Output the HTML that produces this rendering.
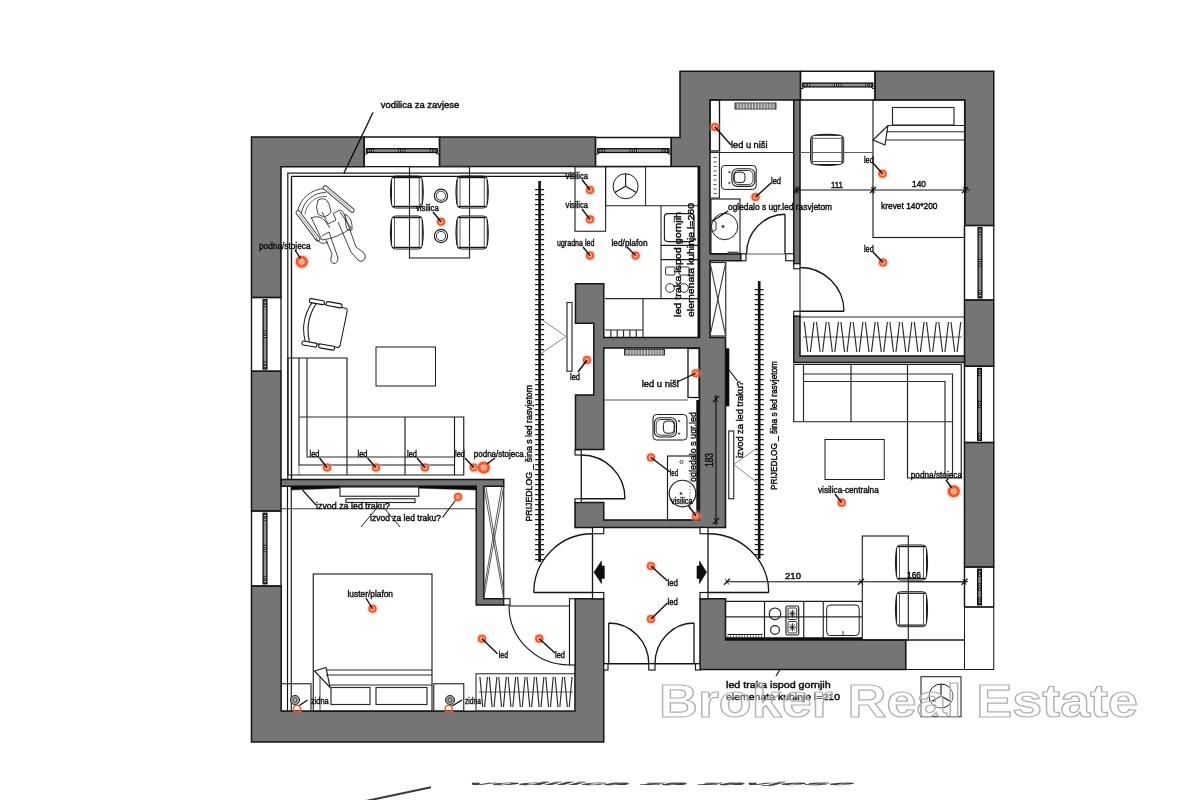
<!DOCTYPE html>
<html><head><meta charset="utf-8"><title>Floor plan</title>
<style>
html,body{margin:0;padding:0;background:#fff;}
body{width:1200px;height:800px;overflow:hidden;font-family:"Liberation Sans",sans-serif;}
svg{display:block;font-family:"Liberation Sans",sans-serif;}
svg text{stroke:#111;stroke-width:0.45px;}
</style></head><body>
<svg width="1200" height="800" viewBox="0 0 1200 800">
<defs><filter id="soft" x="-5%" y="-5%" width="110%" height="110%"><feGaussianBlur stdDeviation="0.55"/></filter>
<filter id="glow" x="-50%" y="-50%" width="200%" height="200%"><feGaussianBlur stdDeviation="0.8"/></filter></defs>
<rect width="1200" height="800" fill="#fff"/>
<g filter="url(#soft)">
<polygon points="251.5,137 364.2,137 364.2,166.7 281,166.7 281,297.5 251.5,297.5" fill="#747474" stroke="#151515" stroke-width="1.5" />
<polygon points="439.5,137 595.5,137 595.5,166.5 439.5,166.5" fill="#747474" stroke="#151515" stroke-width="1.5" />
<polygon points="251.5,371.25 281,371.25 281,511 251.5,511" fill="#747474" stroke="#151515" stroke-width="1.5" />
<polygon points="251.5,586 281.25,586 281.25,711.25 575,711.25 575,598.75 603.75,598.75 603.75,742 251.5,742" fill="#747474" stroke="#151515" stroke-width="1.5" />
<polygon points="281.25,479.5 503.75,479.5 503.75,486.25 483.75,486.25 483.75,598.75 503.75,598.75 503.75,605 476.25,605 476.25,486.25 281.25,486.25" fill="#747474" stroke="#151515" stroke-width="1.5" />
<polygon points="575.5,283.75 603.75,283.75 603.75,337.5 699.5,337.5 699.5,166.5 671.25,166.5 671.25,137.5 680,137.5 680,71.25 800.5,71.25 800.5,100 710,100 710,253.75 741,253.75 741,260.75 710,260.75 710,337.5 725.5,337.5 725.5,527.5 575,527.5 575,502.5 603.75,502.5 603.75,520 699.5,520 699.5,348 603.75,348 603.75,449.5 575.5,449.5 575.5,395 593.75,395 593.75,323.25 575.5,323.25" fill="#747474" stroke="#151515" stroke-width="1.5" />
<polygon points="875,71.25 993.75,71.25 993.75,225.5 965,225.5 965,100 875,100" fill="#747474" stroke="#151515" stroke-width="1.5" />
<polygon points="793.75,100 800,100 800,263.75 793.75,263.75" fill="#747474" stroke="#151515" stroke-width="1.5" />
<polygon points="964.5,300 993.75,300 993.75,366.25 964.5,366.25" fill="#747474" stroke="#151515" stroke-width="1.5" />
<polygon points="964.5,442.5 993.75,442.5 993.75,567 964.5,567" fill="#747474" stroke="#151515" stroke-width="1.5" />
<polygon points="793.75,316 800,316 800,356 964.5,356 964.5,362.5 793.75,362.5" fill="#747474" stroke="#151515" stroke-width="1.5" />
<polygon points="700,598.75 725.5,598.75 725.5,640 905.7,640 905.7,669.5 700,669.5" fill="#747474" stroke="#151515" stroke-width="1.5" />
<rect x="905.7" y="640" width="58.8" height="29.5" fill="none" stroke="#151515" stroke-width="1" />
<rect x="964.5" y="607" width="29.25" height="62.5" fill="none" stroke="#151515" stroke-width="1" />
<line x1="698.6" y1="166.5" x2="698.6" y2="337.5" stroke="#111" stroke-width="2.2" />
<line x1="697.8" y1="400" x2="697.8" y2="519" stroke="#111" stroke-width="3" />
<line x1="364.2" y1="137" x2="439.5" y2="137" stroke="#151515" stroke-width="1.4" />
<line x1="364.2" y1="166.7" x2="439.5" y2="166.7" stroke="#151515" stroke-width="1.3" />
<line x1="364.2" y1="137" x2="364.2" y2="166.7" stroke="#151515" stroke-width="1.3" />
<line x1="439.5" y1="137" x2="439.5" y2="166.7" stroke="#151515" stroke-width="1.3" />
<rect x="366.4" y="148.7" width="70.9" height="3.8" fill="#8c8c8c" stroke="#0a0a0a" stroke-width="1.25" />
<path d="M364.7,154.2 Q367.7,154.4 368.4,152.5" fill="none" stroke="#111" stroke-width="1" />
<path d="M439.0,154.2 Q436.0,154.4 435.3,152.5" fill="none" stroke="#111" stroke-width="1" />
<rect x="367.8" y="149.5" width="2" height="2.4" fill="#fff" stroke="#111" stroke-width="0.85" />
<rect x="371.4" y="149.5" width="2" height="2.4" fill="#fff" stroke="#111" stroke-width="0.85" />
<rect x="398.65" y="149.5" width="2" height="2.4" fill="#fff" stroke="#111" stroke-width="0.85" />
<rect x="403.05" y="149.5" width="2" height="2.4" fill="#fff" stroke="#111" stroke-width="0.85" />
<rect x="430.3" y="149.5" width="2" height="2.4" fill="#fff" stroke="#111" stroke-width="0.85" />
<rect x="433.9" y="149.5" width="2" height="2.4" fill="#fff" stroke="#111" stroke-width="0.85" />
<line x1="595.5" y1="137.5" x2="671.25" y2="137.5" stroke="#151515" stroke-width="1.4" />
<line x1="595.5" y1="166.5" x2="671.25" y2="166.5" stroke="#151515" stroke-width="1.3" />
<line x1="595.5" y1="137.5" x2="595.5" y2="166.5" stroke="#151515" stroke-width="1.3" />
<line x1="671.25" y1="137.5" x2="671.25" y2="166.5" stroke="#151515" stroke-width="1.3" />
<rect x="597.7" y="148.7" width="71.35" height="3.8" fill="#8c8c8c" stroke="#0a0a0a" stroke-width="1.25" />
<path d="M596.0,154.2 Q599.0,154.4 599.7,152.5" fill="none" stroke="#111" stroke-width="1" />
<path d="M670.75,154.2 Q667.75,154.4 667.05,152.5" fill="none" stroke="#111" stroke-width="1" />
<rect x="599.1" y="149.5" width="2" height="2.4" fill="#fff" stroke="#111" stroke-width="0.85" />
<rect x="602.7" y="149.5" width="2" height="2.4" fill="#fff" stroke="#111" stroke-width="0.85" />
<rect x="630.175" y="149.5" width="2" height="2.4" fill="#fff" stroke="#111" stroke-width="0.85" />
<rect x="634.575" y="149.5" width="2" height="2.4" fill="#fff" stroke="#111" stroke-width="0.85" />
<rect x="662.05" y="149.5" width="2" height="2.4" fill="#fff" stroke="#111" stroke-width="0.85" />
<rect x="665.65" y="149.5" width="2" height="2.4" fill="#fff" stroke="#111" stroke-width="0.85" />
<line x1="800.5" y1="71.25" x2="875" y2="71.25" stroke="#151515" stroke-width="1.4" />
<line x1="800.5" y1="100" x2="875" y2="100" stroke="#151515" stroke-width="1.3" />
<line x1="800.5" y1="71.25" x2="800.5" y2="100" stroke="#151515" stroke-width="1.3" />
<line x1="875" y1="71.25" x2="875" y2="100" stroke="#151515" stroke-width="1.3" />
<rect x="802.7" y="83.1" width="70.1" height="3.8" fill="#8c8c8c" stroke="#0a0a0a" stroke-width="1.25" />
<path d="M801.0,88.6 Q804.0,88.8 804.7,86.9" fill="none" stroke="#111" stroke-width="1" />
<path d="M874.5,88.6 Q871.5,88.8 870.8,86.9" fill="none" stroke="#111" stroke-width="1" />
<rect x="804.1" y="83.9" width="2" height="2.4" fill="#fff" stroke="#111" stroke-width="0.85" />
<rect x="807.7" y="83.9" width="2" height="2.4" fill="#fff" stroke="#111" stroke-width="0.85" />
<rect x="834.55" y="83.9" width="2" height="2.4" fill="#fff" stroke="#111" stroke-width="0.85" />
<rect x="838.95" y="83.9" width="2" height="2.4" fill="#fff" stroke="#111" stroke-width="0.85" />
<rect x="865.8" y="83.9" width="2" height="2.4" fill="#fff" stroke="#111" stroke-width="0.85" />
<rect x="869.4" y="83.9" width="2" height="2.4" fill="#fff" stroke="#111" stroke-width="0.85" />
<line x1="251.5" y1="297.5" x2="281" y2="297.5" stroke="#151515" stroke-width="1.3" />
<line x1="251.5" y1="371.25" x2="281" y2="371.25" stroke="#151515" stroke-width="1.3" />
<line x1="251.5" y1="297.5" x2="251.5" y2="371.25" stroke="#151515" stroke-width="1.4" />
<line x1="281" y1="297.5" x2="281" y2="371.25" stroke="#151515" stroke-width="1.3" />
<rect x="263.1" y="299.7" width="3.8" height="69.35" fill="#8c8c8c" stroke="#0a0a0a" stroke-width="1.25" />
<rect x="263.9" y="301.1" width="2.4" height="2" fill="#fff" stroke="#111" stroke-width="0.85" />
<rect x="263.9" y="304.7" width="2.4" height="2" fill="#fff" stroke="#111" stroke-width="0.85" />
<rect x="263.9" y="331.175" width="2.4" height="2" fill="#fff" stroke="#111" stroke-width="0.85" />
<rect x="263.9" y="335.575" width="2.4" height="2" fill="#fff" stroke="#111" stroke-width="0.85" />
<rect x="263.9" y="362.05" width="2.4" height="2" fill="#fff" stroke="#111" stroke-width="0.85" />
<rect x="263.9" y="365.65" width="2.4" height="2" fill="#fff" stroke="#111" stroke-width="0.85" />
<line x1="251.5" y1="511" x2="281" y2="511" stroke="#151515" stroke-width="1.3" />
<line x1="251.5" y1="586" x2="281" y2="586" stroke="#151515" stroke-width="1.3" />
<line x1="251.5" y1="511" x2="251.5" y2="586" stroke="#151515" stroke-width="1.4" />
<line x1="281" y1="511" x2="281" y2="586" stroke="#151515" stroke-width="1.3" />
<rect x="263.1" y="513.2" width="3.8" height="70.6" fill="#8c8c8c" stroke="#0a0a0a" stroke-width="1.25" />
<rect x="263.9" y="514.6" width="2.4" height="2" fill="#fff" stroke="#111" stroke-width="0.85" />
<rect x="263.9" y="518.2" width="2.4" height="2" fill="#fff" stroke="#111" stroke-width="0.85" />
<rect x="263.9" y="545.3" width="2.4" height="2" fill="#fff" stroke="#111" stroke-width="0.85" />
<rect x="263.9" y="549.7" width="2.4" height="2" fill="#fff" stroke="#111" stroke-width="0.85" />
<rect x="263.9" y="576.8" width="2.4" height="2" fill="#fff" stroke="#111" stroke-width="0.85" />
<rect x="263.9" y="580.4" width="2.4" height="2" fill="#fff" stroke="#111" stroke-width="0.85" />
<line x1="964.5" y1="225.5" x2="993.75" y2="225.5" stroke="#151515" stroke-width="1.3" />
<line x1="964.5" y1="300" x2="993.75" y2="300" stroke="#151515" stroke-width="1.3" />
<line x1="964.5" y1="225.5" x2="964.5" y2="300" stroke="#151515" stroke-width="1.4" />
<line x1="993.75" y1="225.5" x2="993.75" y2="300" stroke="#151515" stroke-width="1.3" />
<rect x="978.1" y="227.7" width="3.8" height="70.1" fill="#8c8c8c" stroke="#0a0a0a" stroke-width="1.25" />
<rect x="978.9" y="229.1" width="2.4" height="2" fill="#fff" stroke="#111" stroke-width="0.85" />
<rect x="978.9" y="232.7" width="2.4" height="2" fill="#fff" stroke="#111" stroke-width="0.85" />
<rect x="978.9" y="259.55" width="2.4" height="2" fill="#fff" stroke="#111" stroke-width="0.85" />
<rect x="978.9" y="263.95" width="2.4" height="2" fill="#fff" stroke="#111" stroke-width="0.85" />
<rect x="978.9" y="290.8" width="2.4" height="2" fill="#fff" stroke="#111" stroke-width="0.85" />
<rect x="978.9" y="294.4" width="2.4" height="2" fill="#fff" stroke="#111" stroke-width="0.85" />
<line x1="964.5" y1="366.25" x2="993.75" y2="366.25" stroke="#151515" stroke-width="1.3" />
<line x1="964.5" y1="442.5" x2="993.75" y2="442.5" stroke="#151515" stroke-width="1.3" />
<line x1="964.5" y1="366.25" x2="964.5" y2="442.5" stroke="#151515" stroke-width="1.4" />
<line x1="993.75" y1="366.25" x2="993.75" y2="442.5" stroke="#151515" stroke-width="1.3" />
<rect x="977.6" y="368.45" width="3.8" height="71.85" fill="#8c8c8c" stroke="#0a0a0a" stroke-width="1.25" />
<rect x="978.4" y="369.85" width="2.4" height="2" fill="#fff" stroke="#111" stroke-width="0.85" />
<rect x="978.4" y="373.45" width="2.4" height="2" fill="#fff" stroke="#111" stroke-width="0.85" />
<rect x="978.4" y="401.175" width="2.4" height="2" fill="#fff" stroke="#111" stroke-width="0.85" />
<rect x="978.4" y="405.575" width="2.4" height="2" fill="#fff" stroke="#111" stroke-width="0.85" />
<rect x="978.4" y="433.3" width="2.4" height="2" fill="#fff" stroke="#111" stroke-width="0.85" />
<rect x="978.4" y="436.9" width="2.4" height="2" fill="#fff" stroke="#111" stroke-width="0.85" />
<line x1="964.5" y1="567" x2="993.75" y2="567" stroke="#151515" stroke-width="1.3" />
<line x1="964.5" y1="607" x2="993.75" y2="607" stroke="#151515" stroke-width="1.3" />
<line x1="964.5" y1="567" x2="964.5" y2="607" stroke="#151515" stroke-width="1.4" />
<line x1="993.75" y1="567" x2="993.75" y2="607" stroke="#151515" stroke-width="1.3" />
<rect x="977.6" y="569.2" width="3.8" height="35.6" fill="#8c8c8c" stroke="#0a0a0a" stroke-width="1.25" />
<rect x="978.4" y="570.6" width="2.4" height="2" fill="#fff" stroke="#111" stroke-width="0.85" />
<rect x="978.4" y="574.2" width="2.4" height="2" fill="#fff" stroke="#111" stroke-width="0.85" />
<rect x="978.4" y="583.8" width="2.4" height="2" fill="#fff" stroke="#111" stroke-width="0.85" />
<rect x="978.4" y="588.2" width="2.4" height="2" fill="#fff" stroke="#111" stroke-width="0.85" />
<rect x="978.4" y="597.8" width="2.4" height="2" fill="#fff" stroke="#111" stroke-width="0.85" />
<rect x="978.4" y="601.4" width="2.4" height="2" fill="#fff" stroke="#111" stroke-width="0.85" />
<polyline points="287.8,479.5 287.8,173.2 575,173.2" fill="none" stroke="#181818" stroke-width="1.2" />
<polyline points="291.5,479.5 291.5,176.4 575,176.4" fill="none" stroke="#0a0a0a" stroke-width="1.3" />
<line x1="287.5" y1="486.25" x2="287.5" y2="711.25" stroke="#181818" stroke-width="1.15" />
<line x1="291.25" y1="486.25" x2="291.25" y2="711.25" stroke="#181818" stroke-width="1.15" />
<line x1="373" y1="112.5" x2="343.75" y2="173.5" stroke="#0a0a0a" stroke-width="1.3" />
<rect x="409.5" y="166.7" width="60" height="91.3" fill="none" stroke="#2a2a2a" stroke-width="1.15" />
<rect x="391.5" y="176" width="30.75" height="32" fill="none" stroke="#1c1c1c" stroke-width="1" rx="4" />
<line x1="393" y1="177.6" x2="420.75" y2="177.6" stroke="#181818" stroke-width="1.2" />
<line x1="393" y1="206.4" x2="420.75" y2="206.4" stroke="#181818" stroke-width="1.2" />
<path d="M391.5,180 Q389.5,192.0 391.5,204" fill="none" stroke="#1c1c1c" stroke-width="1.15" />
<path d="M422.25,180 Q424.25,192.0 422.25,204" fill="none" stroke="#1c1c1c" stroke-width="1.15" />
<line x1="394.5" y1="178" x2="394.5" y2="206" stroke="#3c3c3c" stroke-width="0.85" />
<line x1="419.25" y1="178" x2="419.25" y2="206" stroke="#3c3c3c" stroke-width="0.85" />
<rect x="457" y="176" width="30.25" height="32" fill="none" stroke="#1c1c1c" stroke-width="1" rx="4" />
<line x1="458.5" y1="177.6" x2="485.75" y2="177.6" stroke="#181818" stroke-width="1.2" />
<line x1="458.5" y1="206.4" x2="485.75" y2="206.4" stroke="#181818" stroke-width="1.2" />
<path d="M457.0,180 Q455.0,192.0 457.0,204" fill="none" stroke="#1c1c1c" stroke-width="1.15" />
<path d="M487.25,180 Q489.25,192.0 487.25,204" fill="none" stroke="#1c1c1c" stroke-width="1.15" />
<line x1="460" y1="178" x2="460" y2="206" stroke="#3c3c3c" stroke-width="0.85" />
<line x1="484.25" y1="178" x2="484.25" y2="206" stroke="#3c3c3c" stroke-width="0.85" />
<rect x="391.5" y="216" width="30.75" height="33" fill="none" stroke="#1c1c1c" stroke-width="1" rx="4" />
<line x1="393" y1="217.6" x2="420.75" y2="217.6" stroke="#181818" stroke-width="1.2" />
<line x1="393" y1="247.4" x2="420.75" y2="247.4" stroke="#181818" stroke-width="1.2" />
<path d="M391.5,220 Q389.5,232.5 391.5,245" fill="none" stroke="#1c1c1c" stroke-width="1.15" />
<path d="M422.25,220 Q424.25,232.5 422.25,245" fill="none" stroke="#1c1c1c" stroke-width="1.15" />
<line x1="394.5" y1="218" x2="394.5" y2="247" stroke="#3c3c3c" stroke-width="0.85" />
<line x1="419.25" y1="218" x2="419.25" y2="247" stroke="#3c3c3c" stroke-width="0.85" />
<rect x="457" y="216" width="30.25" height="33" fill="none" stroke="#1c1c1c" stroke-width="1" rx="4" />
<line x1="458.5" y1="217.6" x2="485.75" y2="217.6" stroke="#181818" stroke-width="1.2" />
<line x1="458.5" y1="247.4" x2="485.75" y2="247.4" stroke="#181818" stroke-width="1.2" />
<path d="M457.0,220 Q455.0,232.5 457.0,245" fill="none" stroke="#1c1c1c" stroke-width="1.15" />
<path d="M487.25,220 Q489.25,232.5 487.25,245" fill="none" stroke="#1c1c1c" stroke-width="1.15" />
<line x1="460" y1="218" x2="460" y2="247" stroke="#3c3c3c" stroke-width="0.85" />
<line x1="484.25" y1="218" x2="484.25" y2="247" stroke="#3c3c3c" stroke-width="0.85" />
<circle cx="441" cy="195.75" r="6.6" fill="none" stroke="#1c1c1c" stroke-width="1.15" />
<circle cx="441" cy="195.75" r="4.6" fill="none" stroke="#2a2a2a" stroke-width="0.95" />
<circle cx="441" cy="236" r="6.6" fill="none" stroke="#1c1c1c" stroke-width="1.15" />
<circle cx="441" cy="236" r="4.6" fill="none" stroke="#2a2a2a" stroke-width="0.95" />
<g transform="translate(322.5 324.5) rotate(10)">
<path d="M-14.0,-20.0 L20.0,-20.0 Q22.0,-20.0 22.0,-17.0 L21.0,17.0 Q21.0,20.0 18.0,20.0 L-14.0,20.0" fill="none" stroke="#181818" stroke-width="1" />
<path d="M-14.0,-20.0 Q-23.0,0 -14.0,20.0" fill="none" stroke="#181818" stroke-width="1" />
<path d="M-10.0,-19.0 Q-18.0,0 -10.0,19.0" fill="none" stroke="#1c1c1c" stroke-width="1.15" />
<rect x="-17" y="-23.5" width="15" height="4" fill="#fff" stroke="#181818" stroke-width="1.15" rx="1.5" />
<rect x="0" y="-23.5" width="16" height="4" fill="#fff" stroke="#181818" stroke-width="1.15" rx="1.5" />
<rect x="-17" y="19.5" width="15" height="4" fill="#fff" stroke="#181818" stroke-width="1.15" rx="1.5" />
<rect x="0" y="19.5" width="16" height="4" fill="#fff" stroke="#181818" stroke-width="1.15" rx="1.5" />
</g>
<polyline points="288,475 288,358 347,358 347,417 463.75,417 463.75,475 288,475" fill="none" stroke="#1c1c1c" stroke-width="1.15" />
<polyline points="299,358 299,465 454.5,465" fill="none" stroke="#1c1c1c" stroke-width="1.15" />
<polyline points="307,358 307,457 454.5,457" fill="none" stroke="#2a2a2a" stroke-width="1.15" />
<line x1="299" y1="417" x2="347" y2="417" stroke="#2a2a2a" stroke-width="1.15" />
<line x1="347" y1="417" x2="347" y2="475" stroke="#1c1c1c" stroke-width="1.15" />
<line x1="405" y1="417" x2="405" y2="475" stroke="#1c1c1c" stroke-width="1.15" />
<line x1="454.5" y1="417" x2="454.5" y2="475" stroke="#1c1c1c" stroke-width="1.15" />
<line x1="299" y1="465" x2="299" y2="475" stroke="#2a2a2a" stroke-width="0.6" />
<rect x="376" y="347" width="59.5" height="39" fill="none" stroke="#1c1c1c" stroke-width="1" />
<rect x="567" y="302.5" width="5" height="68.75" fill="#fff" stroke="#2a2a2a" stroke-width="1.15" />
<polyline points="541,319 566,336.5 541,353.5" fill="none" stroke="#8a8a8a" stroke-width="1" />
<line x1="539.6" y1="181" x2="539.6" y2="562" stroke="#0a0a0a" stroke-width="2.6" />
<line x1="539.6" y1="189" x2="539.6" y2="561" stroke="#1a1a1a" stroke-width="9" stroke-dasharray="1.2 3.8"/>
<line x1="759.2" y1="281" x2="759.2" y2="558.75" stroke="#0a0a0a" stroke-width="2.6" />
<line x1="759.2" y1="289" x2="759.2" y2="557.75" stroke="#1a1a1a" stroke-width="9" stroke-dasharray="1.2 3.8"/>
<rect x="575" y="166.7" width="30.6" height="64.55" fill="none" stroke="#2a2a2a" stroke-width="1.15" />
<rect x="605.6" y="166.7" width="40" height="39.05" fill="none" stroke="#1c1c1c" stroke-width="1" />
<line x1="645.6" y1="205.75" x2="699" y2="205.75" stroke="#1c1c1c" stroke-width="1" />
<circle cx="625.6" cy="186.25" r="12.5" fill="none" stroke="#181818" stroke-width="1" />
<line x1="625.6" y1="186.25" x2="625.6" y2="173.75" stroke="#181818" stroke-width="1.15" />
<line x1="625.6" y1="186.25" x2="636.425" y2="192.5" stroke="#181818" stroke-width="1.15" />
<line x1="625.6" y1="186.25" x2="614.775" y2="192.5" stroke="#181818" stroke-width="1.15" />
<line x1="661" y1="205.75" x2="661" y2="298.6" stroke="#1c1c1c" stroke-width="1" />
<line x1="661" y1="245.4" x2="698" y2="245.4" stroke="#1c1c1c" stroke-width="1.15" />
<line x1="661" y1="259.6" x2="698" y2="259.6" stroke="#1c1c1c" stroke-width="1.15" />
<line x1="661" y1="298.6" x2="698" y2="298.6" stroke="#1c1c1c" stroke-width="1.15" />
<rect x="664.4" y="213.6" width="29.6" height="28" fill="none" stroke="#1c1c1c" stroke-width="1.15" rx="3.5" />
<rect x="665.6" y="267" width="9.4" height="8" fill="none" stroke="#2a2a2a" stroke-width="0.95" rx="1" />
<rect x="679" y="267" width="10" height="8" fill="none" stroke="#2a2a2a" stroke-width="0.95" rx="1" />
<circle cx="670" cy="288" r="4.4" fill="none" stroke="#2a2a2a" stroke-width="0.95" />
<circle cx="684" cy="288" r="4.4" fill="none" stroke="#2a2a2a" stroke-width="0.95" />
<line x1="605" y1="298.6" x2="661" y2="298.6" stroke="#2a2a2a" stroke-width="1.15" />
<line x1="643" y1="298.6" x2="643" y2="338" stroke="#2a2a2a" stroke-width="1.15" />
<line x1="605" y1="330" x2="643" y2="330" stroke="#2a2a2a" stroke-width="1.15" />
<line x1="610.85" y1="330" x2="610.85" y2="338" stroke="#2a2a2a" stroke-width="1.15" />
<line x1="617.2" y1="330" x2="617.2" y2="338" stroke="#2a2a2a" stroke-width="1.15" />
<line x1="623.55" y1="330" x2="623.55" y2="338" stroke="#2a2a2a" stroke-width="1.15" />
<line x1="629.9" y1="330" x2="629.9" y2="338" stroke="#2a2a2a" stroke-width="1.15" />
<line x1="636.25" y1="330" x2="636.25" y2="338" stroke="#2a2a2a" stroke-width="1.15" />
<rect x="710" y="100" width="9.5" height="51" fill="none" stroke="#141414" stroke-width="1.3" />
<line x1="710" y1="152.5" x2="793.75" y2="152.5" stroke="#2a2a2a" stroke-width="1.15" />
<rect x="735" y="103" width="41" height="6" fill="#8a8a8a" stroke="#2a2a2a" stroke-width="0.95" />
<line x1="737.93" y1="103" x2="737.93" y2="109" stroke="#ddd" stroke-width="0.85" />
<line x1="740.86" y1="103" x2="740.86" y2="109" stroke="#ddd" stroke-width="0.85" />
<line x1="743.79" y1="103" x2="743.79" y2="109" stroke="#ddd" stroke-width="0.85" />
<line x1="746.72" y1="103" x2="746.72" y2="109" stroke="#ddd" stroke-width="0.85" />
<line x1="749.65" y1="103" x2="749.65" y2="109" stroke="#ddd" stroke-width="0.85" />
<line x1="752.58" y1="103" x2="752.58" y2="109" stroke="#ddd" stroke-width="0.85" />
<line x1="755.51" y1="103" x2="755.51" y2="109" stroke="#ddd" stroke-width="0.85" />
<line x1="758.44" y1="103" x2="758.44" y2="109" stroke="#ddd" stroke-width="0.85" />
<line x1="761.37" y1="103" x2="761.37" y2="109" stroke="#ddd" stroke-width="0.85" />
<line x1="764.3" y1="103" x2="764.3" y2="109" stroke="#ddd" stroke-width="0.85" />
<line x1="767.23" y1="103" x2="767.23" y2="109" stroke="#ddd" stroke-width="0.85" />
<line x1="770.16" y1="103" x2="770.16" y2="109" stroke="#ddd" stroke-width="0.85" />
<line x1="773.09" y1="103" x2="773.09" y2="109" stroke="#ddd" stroke-width="0.85" />
<polyline points="719.4,152.5 719.4,198 711,198" fill="none" stroke="#2a2a2a" stroke-width="1.15" />
<line x1="715" y1="157" x2="715" y2="196" stroke="#555555" stroke-width="3.2" stroke-dasharray="0.9 3.6"/>
<rect x="721.4" y="165.5" width="34.8" height="23.9" fill="none" stroke="#1c1c1c" stroke-width="1" rx="3.5" />
<rect x="731.9" y="168.7" width="23" height="17.7" fill="none" stroke="#181818" stroke-width="1.1" rx="5.5" />
<rect x="733.7" y="170.5" width="19.3" height="14.1" fill="none" stroke="#2a2a2a" stroke-width="0.95" rx="4.5" />
<rect x="734.2" y="172.1" width="10.8" height="10.5" fill="none" stroke="#181818" stroke-width="1" rx="3.5" />
<circle cx="729.4" cy="172.1" r="0.8" fill="#444" stroke="#1c1c1c" stroke-width="0.5" />
<circle cx="729.4" cy="183" r="0.8" fill="#444" stroke="#1c1c1c" stroke-width="0.5" />
<rect x="711" y="199" width="29" height="55" fill="none" stroke="#1c1c1c" stroke-width="1.15" />
<circle cx="724.6" cy="226.5" r="13.2" fill="none" stroke="#1c1c1c" stroke-width="1" />
<circle cx="723" cy="226.5" r="1.2" fill="#555" stroke="#2a2a2a" stroke-width="0.5" />
<path d="M711.5,220 L716,222 L716,230 L711.5,232" fill="none" stroke="#2a2a2a" stroke-width="0.95" />
<rect x="728" y="252" width="10" height="2" fill="#666" stroke="#1c1c1c" stroke-width="0.6" />
<rect x="741" y="253.75" width="5" height="7" fill="#fff" stroke="#141414" stroke-width="1.15" />
<rect x="785.75" y="253.75" width="8" height="7" fill="#fff" stroke="#141414" stroke-width="1.15" />
<line x1="785" y1="214.25" x2="785" y2="254" stroke="#141414" stroke-width="1.3" />
<path d="M785,214.25 A39,39.75 0 0 0 746.5,254" fill="none" stroke="#141414" stroke-width="1.3" />
<line x1="746" y1="254" x2="785.75" y2="254" stroke="#3c3c3c" stroke-width="0.85" />
<rect x="710" y="262.5" width="15.75" height="73.5" fill="none" stroke="#2a2a2a" stroke-width="1.15" />
<line x1="710" y1="262.5" x2="725.75" y2="336" stroke="#3c3c3c" stroke-width="1.15" />
<line x1="725.75" y1="262.5" x2="710" y2="336" stroke="#3c3c3c" stroke-width="1.15" />
<rect x="873" y="100" width="91.5" height="137.5" fill="none" stroke="#1c1c1c" stroke-width="1.15" />
<rect x="892.5" y="107.5" width="61.5" height="17.5" fill="none" stroke="#2a2a2a" stroke-width="1.15" />
<line x1="888" y1="125.5" x2="964.5" y2="125.5" stroke="#2a2a2a" stroke-width="1.15" />
<line x1="886" y1="131.75" x2="964.5" y2="131.75" stroke="#2a2a2a" stroke-width="1.15" />
<line x1="886" y1="140" x2="964.5" y2="140" stroke="#2a2a2a" stroke-width="1.15" />
<polyline points="888,125.5 873,140 885,145 888,125.5" fill="none" stroke="#1c1c1c" stroke-width="1.15" />
<g transform="translate(827.1 149.9) rotate(90) translate(-827.1 -149.9)">
<rect x="812.5" y="133.3" width="29.2" height="33.2" fill="none" stroke="#1c1c1c" stroke-width="1" rx="4" />
<line x1="814" y1="134.9" x2="840.2" y2="134.9" stroke="#181818" stroke-width="1.2" />
<line x1="814" y1="164.9" x2="840.2" y2="164.9" stroke="#181818" stroke-width="1.2" />
<path d="M812.5,137.3 Q810.5,149.9 812.5,162.5" fill="none" stroke="#1c1c1c" stroke-width="1.15" />
<path d="M841.7,137.3 Q843.7,149.9 841.7,162.5" fill="none" stroke="#1c1c1c" stroke-width="1.15" />
<line x1="815.5" y1="135.3" x2="815.5" y2="164.5" stroke="#3c3c3c" stroke-width="0.85" />
<line x1="838.7" y1="135.3" x2="838.7" y2="164.5" stroke="#3c3c3c" stroke-width="0.85" />
</g>
<line x1="800" y1="152.5" x2="873" y2="152.5" stroke="#555555" stroke-width="0.95" />
<line x1="794" y1="190" x2="970" y2="190" stroke="#141414" stroke-width="1.15" />
<line x1="794" y1="193" x2="800" y2="187" stroke="#111" stroke-width="1.3" />
<line x1="795.2" y1="187.2" x2="798.8" y2="192.8" stroke="#111" stroke-width="0.85" />
<line x1="870" y1="193" x2="876" y2="187" stroke="#111" stroke-width="1.3" />
<line x1="871.2" y1="187.2" x2="874.8" y2="192.8" stroke="#111" stroke-width="0.85" />
<line x1="962" y1="193" x2="968" y2="187" stroke="#111" stroke-width="1.3" />
<line x1="963.2" y1="187.2" x2="966.8" y2="192.8" stroke="#111" stroke-width="0.85" />
<line x1="797" y1="186" x2="797" y2="194" stroke="#141414" stroke-width="0.95" />
<line x1="873" y1="186" x2="873" y2="194" stroke="#141414" stroke-width="0.95" />
<line x1="965" y1="186" x2="965" y2="194" stroke="#141414" stroke-width="0.95" />
<line x1="800" y1="268" x2="800" y2="311.25" stroke="#1c1c1c" stroke-width="1.15" />
<line x1="800" y1="311.25" x2="844" y2="311.25" stroke="#141414" stroke-width="1.3" />
<path d="M844,311.25 A44,44 0 0 0 800,267.5" fill="none" stroke="#141414" stroke-width="1.3" />
<rect x="793.75" y="263.75" width="6.25" height="5" fill="#fff" stroke="#141414" stroke-width="1.15" />
<rect x="793.75" y="311.25" width="6.25" height="4.75" fill="#fff" stroke="#141414" stroke-width="1.15" />
<line x1="800" y1="317" x2="964.5" y2="317" stroke="#2a2a2a" stroke-width="1.15" />
<line x1="803" y1="337" x2="962" y2="337" stroke="#555555" stroke-width="0.95" />
<line x1="804.223" y1="322" x2="807.892" y2="352" stroke="#2a2a2a" stroke-width="1.15" />
<line x1="814.008" y1="322" x2="810.338" y2="352" stroke="#2a2a2a" stroke-width="1.15" />
<line x1="816.454" y1="322" x2="820.123" y2="352" stroke="#2a2a2a" stroke-width="1.15" />
<line x1="826.238" y1="322" x2="822.569" y2="352" stroke="#2a2a2a" stroke-width="1.15" />
<line x1="828.685" y1="322" x2="832.354" y2="352" stroke="#2a2a2a" stroke-width="1.15" />
<line x1="838.469" y1="322" x2="834.8" y2="352" stroke="#2a2a2a" stroke-width="1.15" />
<line x1="840.915" y1="322" x2="844.585" y2="352" stroke="#2a2a2a" stroke-width="1.15" />
<line x1="850.7" y1="322" x2="847.031" y2="352" stroke="#2a2a2a" stroke-width="1.15" />
<line x1="853.146" y1="322" x2="856.815" y2="352" stroke="#2a2a2a" stroke-width="1.15" />
<line x1="862.931" y1="322" x2="859.262" y2="352" stroke="#2a2a2a" stroke-width="1.15" />
<line x1="865.377" y1="322" x2="869.046" y2="352" stroke="#2a2a2a" stroke-width="1.15" />
<line x1="875.162" y1="322" x2="871.492" y2="352" stroke="#2a2a2a" stroke-width="1.15" />
<line x1="877.608" y1="322" x2="881.277" y2="352" stroke="#2a2a2a" stroke-width="1.15" />
<line x1="887.392" y1="322" x2="883.723" y2="352" stroke="#2a2a2a" stroke-width="1.15" />
<line x1="889.838" y1="322" x2="893.508" y2="352" stroke="#2a2a2a" stroke-width="1.15" />
<line x1="899.623" y1="322" x2="895.954" y2="352" stroke="#2a2a2a" stroke-width="1.15" />
<line x1="902.069" y1="322" x2="905.738" y2="352" stroke="#2a2a2a" stroke-width="1.15" />
<line x1="911.854" y1="322" x2="908.185" y2="352" stroke="#2a2a2a" stroke-width="1.15" />
<line x1="914.3" y1="322" x2="917.969" y2="352" stroke="#2a2a2a" stroke-width="1.15" />
<line x1="924.085" y1="322" x2="920.415" y2="352" stroke="#2a2a2a" stroke-width="1.15" />
<line x1="926.531" y1="322" x2="930.2" y2="352" stroke="#2a2a2a" stroke-width="1.15" />
<line x1="936.315" y1="322" x2="932.646" y2="352" stroke="#2a2a2a" stroke-width="1.15" />
<line x1="938.762" y1="322" x2="942.431" y2="352" stroke="#2a2a2a" stroke-width="1.15" />
<line x1="948.546" y1="322" x2="944.877" y2="352" stroke="#2a2a2a" stroke-width="1.15" />
<line x1="950.992" y1="322" x2="954.662" y2="352" stroke="#2a2a2a" stroke-width="1.15" />
<line x1="960.777" y1="322" x2="957.108" y2="352" stroke="#2a2a2a" stroke-width="1.15" />
<rect x="624.5" y="349.5" width="40" height="5.5" fill="#8a8a8a" stroke="#2a2a2a" stroke-width="0.95" />
<line x1="627.36" y1="349.5" x2="627.36" y2="355" stroke="#ddd" stroke-width="0.85" />
<line x1="630.22" y1="349.5" x2="630.22" y2="355" stroke="#ddd" stroke-width="0.85" />
<line x1="633.08" y1="349.5" x2="633.08" y2="355" stroke="#ddd" stroke-width="0.85" />
<line x1="635.94" y1="349.5" x2="635.94" y2="355" stroke="#ddd" stroke-width="0.85" />
<line x1="638.8" y1="349.5" x2="638.8" y2="355" stroke="#ddd" stroke-width="0.85" />
<line x1="641.66" y1="349.5" x2="641.66" y2="355" stroke="#ddd" stroke-width="0.85" />
<line x1="644.52" y1="349.5" x2="644.52" y2="355" stroke="#ddd" stroke-width="0.85" />
<line x1="647.38" y1="349.5" x2="647.38" y2="355" stroke="#ddd" stroke-width="0.85" />
<line x1="650.24" y1="349.5" x2="650.24" y2="355" stroke="#ddd" stroke-width="0.85" />
<line x1="653.1" y1="349.5" x2="653.1" y2="355" stroke="#ddd" stroke-width="0.85" />
<line x1="655.96" y1="349.5" x2="655.96" y2="355" stroke="#ddd" stroke-width="0.85" />
<line x1="658.82" y1="349.5" x2="658.82" y2="355" stroke="#ddd" stroke-width="0.85" />
<line x1="661.68" y1="349.5" x2="661.68" y2="355" stroke="#ddd" stroke-width="0.85" />
<rect x="688" y="348.5" width="11" height="49" fill="#fff" stroke="#141414" stroke-width="1.3" />
<line x1="604" y1="400" x2="688" y2="400" stroke="#555555" stroke-width="1.15" />
<g transform="translate(1342 0) scale(-1 1)">
<rect x="655" y="414.5" width="34" height="25.5" fill="none" stroke="#1c1c1c" stroke-width="1" rx="3.5" />
<rect x="665.5" y="417.7" width="22.2" height="19.3" fill="none" stroke="#181818" stroke-width="1.1" rx="5.5" />
<rect x="667.3" y="419.5" width="18.5" height="15.7" fill="none" stroke="#2a2a2a" stroke-width="0.95" rx="4.5" />
<rect x="667.8" y="421.1" width="10.8" height="12.1" fill="none" stroke="#181818" stroke-width="1" rx="3.5" />
<circle cx="663" cy="421.1" r="0.8" fill="#444" stroke="#1c1c1c" stroke-width="0.5" />
<circle cx="663" cy="433.6" r="0.8" fill="#444" stroke="#1c1c1c" stroke-width="0.5" />
</g>
<rect x="667.5" y="456" width="31.5" height="64" fill="none" stroke="#1c1c1c" stroke-width="1.15" />
<circle cx="682.5" cy="493.5" r="13.3" fill="none" stroke="#1c1c1c" stroke-width="1.15" />
<circle cx="681" cy="493.5" r="1.1" fill="#555" stroke="#2a2a2a" stroke-width="0.5" />
<circle cx="681.5" cy="462" r="1.6" fill="none" stroke="#2a2a2a" stroke-width="0.85" />
<line x1="690" y1="470" x2="690" y2="510" stroke="#999" stroke-width="2.2" stroke-dasharray="1 2.2"/>
<rect x="575" y="450" width="6.25" height="5" fill="#fff" stroke="#141414" stroke-width="1.15" />
<rect x="575" y="498.75" width="6.25" height="3.75" fill="#fff" stroke="#141414" stroke-width="1.15" />
<line x1="581.25" y1="455" x2="581.25" y2="498.75" stroke="#141414" stroke-width="1.3" />
<line x1="581.25" y1="498.75" x2="625" y2="498.75" stroke="#141414" stroke-width="1.3" />
<path d="M581.25,455 A43.75,43.75 0 0 1 625,498.75" fill="none" stroke="#141414" stroke-width="1.3" />
<line x1="716" y1="395" x2="716" y2="525" stroke="#141414" stroke-width="1.15" />
<line x1="713" y1="402" x2="719" y2="396" stroke="#111" stroke-width="1.3" />
<line x1="714.2" y1="396.2" x2="717.8" y2="401.8" stroke="#111" stroke-width="0.85" />
<line x1="713" y1="524" x2="719" y2="518" stroke="#111" stroke-width="1.3" />
<line x1="714.2" y1="518.2" x2="717.8" y2="523.8" stroke="#111" stroke-width="0.85" />
<rect x="726" y="348.75" width="3" height="57.25" fill="#111" stroke="#111" stroke-width="0.6" />
<line x1="729" y1="370" x2="737.5" y2="381" stroke="#111" stroke-width="1.15" />
<rect x="728.75" y="431" width="5" height="67.75" fill="#fff" stroke="#2a2a2a" stroke-width="1.15" />
<polyline points="757,448 733.75,464.5 757,482.5" fill="none" stroke="#8a8a8a" stroke-width="1" />
<rect x="592.5" y="527.5" width="11.25" height="6.25" fill="#fff" stroke="#141414" stroke-width="1.15" />
<rect x="592.5" y="592.5" width="11.25" height="6.25" fill="#fff" stroke="#141414" stroke-width="1.15" />
<line x1="592.5" y1="533.75" x2="592.5" y2="592.5" stroke="#141414" stroke-width="1.3" />
<line x1="533.75" y1="592.5" x2="592.5" y2="592.5" stroke="#141414" stroke-width="1.3" />
<path d="M533.75,592.5 A58.75,58.75 0 0 1 592.5,533.75" fill="none" stroke="#141414" stroke-width="1.3" />
<rect x="700" y="527.5" width="8" height="6.25" fill="#fff" stroke="#141414" stroke-width="1.15" />
<rect x="700" y="592.5" width="8" height="6.25" fill="#fff" stroke="#141414" stroke-width="1.15" />
<line x1="708" y1="533.75" x2="708" y2="592.5" stroke="#141414" stroke-width="1.3" />
<line x1="708" y1="592.5" x2="768.75" y2="592.5" stroke="#141414" stroke-width="1.3" />
<path d="M708,533.75 A60.75,58.75 0 0 1 768.75,592.5" fill="none" stroke="#141414" stroke-width="1.3" />
<polygon points="594,572.3 601.5,561 601.5,566 604.3,566 604.3,578.5 601.5,578.5 601.5,583.5" fill="#0a0a0a" stroke="#0a0a0a" stroke-width="0.6" />
<polygon points="706.5,572.3 699.5,561 699.5,566 697,566 697,578.5 699.5,578.5 699.5,583.5" fill="#0a0a0a" stroke="#0a0a0a" stroke-width="0.6" />
<line x1="603.75" y1="663.75" x2="700" y2="663.75" stroke="#141414" stroke-width="1.3" />
<rect x="603.75" y="663.75" width="4.25" height="6.25" fill="#fff" stroke="#141414" stroke-width="1.15" />
<rect x="695.5" y="663.75" width="4.5" height="6.25" fill="#fff" stroke="#141414" stroke-width="1.15" />
<rect x="648.75" y="663.75" width="6.25" height="6.25" fill="#fff" stroke="#141414" stroke-width="1.15" />
<line x1="608.75" y1="623" x2="608.75" y2="663.75" stroke="#141414" stroke-width="1.3" />
<line x1="694" y1="623" x2="694" y2="663.75" stroke="#141414" stroke-width="1.3" />
<path d="M608.75,623 A40,40.75 0 0 1 648.75,663.75" fill="none" stroke="#141414" stroke-width="1.3" />
<path d="M694,623 A39,40.75 0 0 0 655,663.75" fill="none" stroke="#141414" stroke-width="1.3" />
<polygon points="291,486.25 340,486.25 340,488.2 291,490" fill="#111" stroke="#111" stroke-width="0.4" />
<polygon points="418.75,486.25 476,486.25 476,490 418.75,488.2" fill="#111" stroke="#111" stroke-width="0.4" />
<rect x="340" y="487" width="78.75" height="9.25" fill="#fff" stroke="#2a2a2a" stroke-width="1.15" />
<rect x="346" y="498.75" width="69" height="3.75" fill="#fff" stroke="#2a2a2a" stroke-width="1.15" />
<line x1="281.25" y1="508.75" x2="476" y2="508.75" stroke="#3c3c3c" stroke-width="1.15" />
<line x1="302.5" y1="490" x2="316" y2="505" stroke="#111" stroke-width="1.15" />
<line x1="376" y1="509" x2="361" y2="527" stroke="#181818" stroke-width="0.95" />
<line x1="385" y1="509" x2="400" y2="527" stroke="#181818" stroke-width="0.95" />
<line x1="458" y1="497" x2="442.5" y2="517.5" stroke="#111" stroke-width="1.15" />
<line x1="503.75" y1="486.25" x2="503.75" y2="598.75" stroke="#1c1c1c" stroke-width="1.15" />
<line x1="483.75" y1="486.25" x2="503.75" y2="598.75" stroke="#3c3c3c" stroke-width="0.85" />
<line x1="503.75" y1="486.25" x2="483.75" y2="598.75" stroke="#3c3c3c" stroke-width="0.85" />
<line x1="485.75" y1="486.25" x2="503.75" y2="590.75" stroke="#3c3c3c" stroke-width="0.85" />
<line x1="501.75" y1="486.25" x2="483.75" y2="590.75" stroke="#3c3c3c" stroke-width="0.85" />
<rect x="503.75" y="598.75" width="6.25" height="6.25" fill="#fff" stroke="#141414" stroke-width="1.15" />
<line x1="509" y1="606" x2="569.5" y2="606" stroke="#181818" stroke-width="1.15" />
<rect x="569.5" y="598.75" width="5.5" height="66.25" fill="#fff" stroke="#181818" stroke-width="1.15" />
<path d="M509,606 A60.5,59 0 0 0 569.5,665" fill="none" stroke="#141414" stroke-width="1.1" />
<rect x="313.25" y="574" width="118.75" height="137" fill="none" stroke="#1c1c1c" stroke-width="1.15" />
<line x1="326" y1="670" x2="432" y2="670" stroke="#2a2a2a" stroke-width="1.15" />
<line x1="326" y1="675" x2="432" y2="675" stroke="#2a2a2a" stroke-width="1.15" />
<line x1="330" y1="685" x2="432" y2="685" stroke="#2a2a2a" stroke-width="1.15" />
<polyline points="326,667.5 314.5,671 330,687.5 326,667.5" fill="none" stroke="#181818" stroke-width="1.15" />
<rect x="331" y="687.5" width="39" height="17" fill="none" stroke="#2a2a2a" stroke-width="1.15" />
<rect x="376" y="687.5" width="51" height="17" fill="none" stroke="#2a2a2a" stroke-width="1.15" />
<line x1="320" y1="676" x2="320" y2="711" stroke="#3c3c3c" stroke-width="0.95" />
<rect x="281.25" y="683.75" width="29.75" height="27.25" fill="none" stroke="#2a2a2a" stroke-width="1.15" />
<rect x="433.75" y="683.75" width="30" height="27.25" fill="none" stroke="#2a2a2a" stroke-width="1.15" />
<rect x="476" y="673.75" width="99" height="37.25" fill="none" stroke="#3c3c3c" stroke-width="1.15" />
<line x1="479" y1="692" x2="573" y2="692" stroke="#555555" stroke-width="0.95" />
<line x1="479.94" y1="677" x2="482.76" y2="707" stroke="#2a2a2a" stroke-width="1.15" />
<line x1="487.46" y1="677" x2="484.64" y2="707" stroke="#2a2a2a" stroke-width="1.15" />
<line x1="489.34" y1="677" x2="492.16" y2="707" stroke="#2a2a2a" stroke-width="1.15" />
<line x1="496.86" y1="677" x2="494.04" y2="707" stroke="#2a2a2a" stroke-width="1.15" />
<line x1="498.74" y1="677" x2="501.56" y2="707" stroke="#2a2a2a" stroke-width="1.15" />
<line x1="506.26" y1="677" x2="503.44" y2="707" stroke="#2a2a2a" stroke-width="1.15" />
<line x1="508.14" y1="677" x2="510.96" y2="707" stroke="#2a2a2a" stroke-width="1.15" />
<line x1="515.66" y1="677" x2="512.84" y2="707" stroke="#2a2a2a" stroke-width="1.15" />
<line x1="517.54" y1="677" x2="520.36" y2="707" stroke="#2a2a2a" stroke-width="1.15" />
<line x1="525.06" y1="677" x2="522.24" y2="707" stroke="#2a2a2a" stroke-width="1.15" />
<line x1="526.94" y1="677" x2="529.76" y2="707" stroke="#2a2a2a" stroke-width="1.15" />
<line x1="534.46" y1="677" x2="531.64" y2="707" stroke="#2a2a2a" stroke-width="1.15" />
<line x1="536.34" y1="677" x2="539.16" y2="707" stroke="#2a2a2a" stroke-width="1.15" />
<line x1="543.86" y1="677" x2="541.04" y2="707" stroke="#2a2a2a" stroke-width="1.15" />
<line x1="545.74" y1="677" x2="548.56" y2="707" stroke="#2a2a2a" stroke-width="1.15" />
<line x1="553.26" y1="677" x2="550.44" y2="707" stroke="#2a2a2a" stroke-width="1.15" />
<line x1="555.14" y1="677" x2="557.96" y2="707" stroke="#2a2a2a" stroke-width="1.15" />
<line x1="562.66" y1="677" x2="559.84" y2="707" stroke="#2a2a2a" stroke-width="1.15" />
<line x1="564.54" y1="677" x2="567.36" y2="707" stroke="#2a2a2a" stroke-width="1.15" />
<line x1="572.06" y1="677" x2="569.24" y2="707" stroke="#2a2a2a" stroke-width="1.15" />
<polyline points="793.75,364.5 961.25,364.5 961.25,478 907.5,478 907.5,421.75 793.75,421.75 793.75,364.5" fill="none" stroke="#1c1c1c" stroke-width="1.15" />
<line x1="803.5" y1="364.5" x2="803.5" y2="421.75" stroke="#2a2a2a" stroke-width="1.15" />
<polyline points="803.5,374 952.5,374 952.5,478" fill="none" stroke="#2a2a2a" stroke-width="1.15" />
<polyline points="803.5,381.5 945,381.5 945,478" fill="none" stroke="#2a2a2a" stroke-width="1.15" />
<line x1="851" y1="364.5" x2="851" y2="421.75" stroke="#1c1c1c" stroke-width="1.15" />
<line x1="907.5" y1="364.5" x2="907.5" y2="421.75" stroke="#1c1c1c" stroke-width="1.15" />
<line x1="907.5" y1="421.75" x2="952.5" y2="421.75" stroke="#2a2a2a" stroke-width="1.15" />
<rect x="825" y="439.5" width="59.25" height="40" fill="none" stroke="#1c1c1c" stroke-width="1" />
<line x1="725.5" y1="601.3" x2="862" y2="601.3" stroke="#1c1c1c" stroke-width="1.15" />
<line x1="725.5" y1="616.8" x2="862" y2="616.8" stroke="#2a2a2a" stroke-width="1.15" />
<line x1="764.5" y1="601.3" x2="764.5" y2="640" stroke="#1c1c1c" stroke-width="1.15" />
<line x1="803.75" y1="601.3" x2="803.75" y2="640" stroke="#1c1c1c" stroke-width="1.15" />
<line x1="823.3" y1="601.3" x2="823.3" y2="640" stroke="#2a2a2a" stroke-width="1.15" />
<circle cx="775" cy="613.75" r="5.8" fill="none" stroke="#1c1c1c" stroke-width="1.15" />
<circle cx="775" cy="630" r="4.4" fill="none" stroke="#1c1c1c" stroke-width="1.15" />
<rect x="786" y="606" width="12.75" height="29" fill="none" stroke="#1c1c1c" stroke-width="1.15" rx="1.5" />
<rect x="788" y="608" width="8.75" height="11.5" fill="none" stroke="#2a2a2a" stroke-width="0.95" rx="1" />
<rect x="788" y="621.5" width="8.75" height="11.5" fill="none" stroke="#2a2a2a" stroke-width="0.95" rx="1" />
<line x1="789" y1="613.75" x2="795.75" y2="613.75" stroke="#1c1c1c" stroke-width="0.95" />
<line x1="792.4" y1="609.75" x2="792.4" y2="617.75" stroke="#1c1c1c" stroke-width="0.95" />
<line x1="790" y1="610.75" x2="794.8" y2="616.75" stroke="#1c1c1c" stroke-width="0.85" />
<line x1="794.8" y1="610.75" x2="790" y2="616.75" stroke="#1c1c1c" stroke-width="0.85" />
<line x1="789" y1="627.25" x2="795.75" y2="627.25" stroke="#1c1c1c" stroke-width="0.95" />
<line x1="792.4" y1="623.25" x2="792.4" y2="631.25" stroke="#1c1c1c" stroke-width="0.95" />
<line x1="790" y1="624.25" x2="794.8" y2="630.25" stroke="#1c1c1c" stroke-width="0.85" />
<line x1="794.8" y1="624.25" x2="790" y2="630.25" stroke="#1c1c1c" stroke-width="0.85" />
<rect x="826.7" y="605" width="32.5" height="30.5" fill="none" stroke="#1c1c1c" stroke-width="1" rx="3.5" />
<line x1="843" y1="631" x2="843" y2="635.5" stroke="#2a2a2a" stroke-width="0.95" />
<line x1="727.5" y1="634.5" x2="762.5" y2="634.5" stroke="#181818" stroke-width="1" />
<line x1="727.5" y1="636.5" x2="762.5" y2="636.5" stroke="#181818" stroke-width="2.2" stroke-dasharray="0.8 2"/>
<rect x="862.3" y="536" width="46" height="104" fill="none" stroke="#1c1c1c" stroke-width="1.15" />
<polyline points="908.3,581.7 964,581.7" fill="none" stroke="#2a2a2a" stroke-width="1.15" />
<line x1="862.3" y1="640" x2="964" y2="640" stroke="#1c1c1c" stroke-width="1.15" />
<rect x="896.5" y="545" width="30" height="35" fill="none" stroke="#1c1c1c" stroke-width="1" rx="4" />
<line x1="898" y1="546.6" x2="925" y2="546.6" stroke="#181818" stroke-width="1.2" />
<line x1="898" y1="578.4" x2="925" y2="578.4" stroke="#181818" stroke-width="1.2" />
<path d="M896.5,549 Q894.5,562.5 896.5,576" fill="none" stroke="#1c1c1c" stroke-width="1.15" />
<path d="M926.5,549 Q928.5,562.5 926.5,576" fill="none" stroke="#1c1c1c" stroke-width="1.15" />
<line x1="899.5" y1="547" x2="899.5" y2="578" stroke="#3c3c3c" stroke-width="0.85" />
<line x1="923.5" y1="547" x2="923.5" y2="578" stroke="#3c3c3c" stroke-width="0.85" />
<rect x="896.5" y="591.7" width="30" height="35" fill="none" stroke="#1c1c1c" stroke-width="1" rx="4" />
<line x1="898" y1="593.3" x2="925" y2="593.3" stroke="#181818" stroke-width="1.2" />
<line x1="898" y1="625.1" x2="925" y2="625.1" stroke="#181818" stroke-width="1.2" />
<path d="M896.5,595.7 Q894.5,609.2 896.5,622.7" fill="none" stroke="#1c1c1c" stroke-width="1.15" />
<path d="M926.5,595.7 Q928.5,609.2 926.5,622.7" fill="none" stroke="#1c1c1c" stroke-width="1.15" />
<line x1="899.5" y1="593.7" x2="899.5" y2="624.7" stroke="#3c3c3c" stroke-width="0.85" />
<line x1="923.5" y1="593.7" x2="923.5" y2="624.7" stroke="#3c3c3c" stroke-width="0.85" />
<line x1="768" y1="581.7" x2="968" y2="581.7" stroke="#141414" stroke-width="1.15" />
<line x1="858" y1="584.7" x2="864" y2="578.7" stroke="#111" stroke-width="1.3" />
<line x1="859.2" y1="578.9" x2="862.8" y2="584.5" stroke="#111" stroke-width="0.85" />
<line x1="961.5" y1="584.7" x2="967.5" y2="578.7" stroke="#111" stroke-width="1.3" />
<line x1="962.7" y1="578.9" x2="966.3" y2="584.5" stroke="#111" stroke-width="0.85" />
<line x1="727" y1="581.7" x2="768" y2="581.7" stroke="#141414" stroke-width="1.15" />
<line x1="724" y1="584.7" x2="730" y2="578.7" stroke="#111" stroke-width="1.3" />
<line x1="725.2" y1="578.9" x2="728.8" y2="584.5" stroke="#111" stroke-width="0.85" />
<line x1="780" y1="669.5" x2="776" y2="676" stroke="#111" stroke-width="1.15" />
<rect x="921" y="676.7" width="40" height="40" fill="none" stroke="#1c1c1c" stroke-width="1" />
<circle cx="941" cy="696" r="12" fill="none" stroke="#181818" stroke-width="1" />
<line x1="941" y1="696" x2="941" y2="684" stroke="#181818" stroke-width="1.15" />
<line x1="941" y1="696" x2="951.392" y2="702" stroke="#181818" stroke-width="1.15" />
<line x1="941" y1="696" x2="930.608" y2="702" stroke="#181818" stroke-width="1.15" />
<g fill="none" stroke="#3a3a3a" stroke-width="0.95" stroke-linejoin="round">
<path d="M297.5,211.5 A28.5,28.5 0 0 1 325,188.6"/>
<path d="M301.5,213 A24,24 0 0 1 326,192.6"/>
<path d="M305,214.5 A20,20 0 0 1 327,196.5" stroke="#555555" stroke-width="0.85"/>
<rect x="-19.5" y="-2" width="39" height="4" rx="1.8" fill="#fff" transform="translate(338.7 199) rotate(40)"/>
<line x1="-16" y1="0" x2="16" y2="0" stroke="#555555" stroke-width="0.6" transform="translate(338.7 199) rotate(40)"/>
<rect x="-18.5" y="-2" width="37" height="4" rx="1.8" fill="#fff" transform="translate(308 225.8) rotate(53)"/>
<line x1="-15" y1="0" x2="15" y2="0" stroke="#555555" stroke-width="0.6" transform="translate(308 225.8) rotate(53)"/>
<path d="M311,217 L322,240 M340,212 L351,228 M322,240 Q338,238 351,228"/>
<path d="M345,214 Q353,218 352,230 Q347,232 346,226 Z"/>
<path d="M316,238 Q320,246 328,242"/>
<path d="M318,200 Q326,196 329,204 L331,212 Q326,220 318,214 Q315,207 318,200 Z"/>
<path d="M322,212 L328,224 L336,220 L333,213"/>
<path d="M311,218 Q320,214 326,222 L330,228"/>
<path d="M334,213 L340,210 Q344,212 345,216 L356,247 L363,252 Q367,256 364,260 Q361,263 358,260 L351,252 L338,222"/>
<path d="M322,236 L329,232 L336,252 L338,258 Q338,263 334,263.5 Q330,263 331,258 L332,254 L326,240"/>
</g>
<circle cx="441" cy="221.75" r="4.9" fill="#f3a78f" stroke="none" stroke-width="0" filter="url(#glow)" opacity="0.75"/>
<circle cx="441" cy="221.75" r="3.3" fill="#f29a7e" stroke="#e4572e" stroke-width="1.6" />
<circle cx="590" cy="190" r="4.9" fill="#f3a78f" stroke="none" stroke-width="0" filter="url(#glow)" opacity="0.75"/>
<circle cx="590" cy="190" r="3.3" fill="#f29a7e" stroke="#e4572e" stroke-width="1.6" />
<circle cx="590" cy="219.4" r="4.9" fill="#f3a78f" stroke="none" stroke-width="0" filter="url(#glow)" opacity="0.75"/>
<circle cx="590" cy="219.4" r="3.3" fill="#f29a7e" stroke="#e4572e" stroke-width="1.6" />
<circle cx="590" cy="255.6" r="4.9" fill="#f3a78f" stroke="none" stroke-width="0" filter="url(#glow)" opacity="0.75"/>
<circle cx="590" cy="255.6" r="3.3" fill="#f29a7e" stroke="#e4572e" stroke-width="1.6" />
<circle cx="635.6" cy="255.6" r="4.9" fill="#f3a78f" stroke="none" stroke-width="0" filter="url(#glow)" opacity="0.75"/>
<circle cx="635.6" cy="255.6" r="3.3" fill="#f29a7e" stroke="#e4572e" stroke-width="1.6" />
<circle cx="715" cy="127" r="4.9" fill="#f3a78f" stroke="none" stroke-width="0" filter="url(#glow)" opacity="0.75"/>
<circle cx="715" cy="127" r="3.3" fill="#f29a7e" stroke="#e4572e" stroke-width="1.6" />
<circle cx="755.5" cy="197" r="4.9" fill="#f3a78f" stroke="none" stroke-width="0" filter="url(#glow)" opacity="0.75"/>
<circle cx="755.5" cy="197" r="3.3" fill="#f29a7e" stroke="#e4572e" stroke-width="1.6" />
<circle cx="882.5" cy="173.75" r="4.9" fill="#f3a78f" stroke="none" stroke-width="0" filter="url(#glow)" opacity="0.75"/>
<circle cx="882.5" cy="173.75" r="3.3" fill="#f29a7e" stroke="#e4572e" stroke-width="1.6" />
<circle cx="883" cy="262.5" r="4.9" fill="#f3a78f" stroke="none" stroke-width="0" filter="url(#glow)" opacity="0.75"/>
<circle cx="883" cy="262.5" r="3.3" fill="#f29a7e" stroke="#e4572e" stroke-width="1.6" />
<circle cx="327" cy="467.5" r="4.9" fill="#f3a78f" stroke="none" stroke-width="0" filter="url(#glow)" opacity="0.75"/>
<circle cx="327" cy="467.5" r="3.3" fill="#f29a7e" stroke="#e4572e" stroke-width="1.6" />
<circle cx="376" cy="467.5" r="4.9" fill="#f3a78f" stroke="none" stroke-width="0" filter="url(#glow)" opacity="0.75"/>
<circle cx="376" cy="467.5" r="3.3" fill="#f29a7e" stroke="#e4572e" stroke-width="1.6" />
<circle cx="425" cy="467.5" r="4.9" fill="#f3a78f" stroke="none" stroke-width="0" filter="url(#glow)" opacity="0.75"/>
<circle cx="425" cy="467.5" r="3.3" fill="#f29a7e" stroke="#e4572e" stroke-width="1.6" />
<circle cx="473.75" cy="467.5" r="4.9" fill="#f3a78f" stroke="none" stroke-width="0" filter="url(#glow)" opacity="0.75"/>
<circle cx="473.75" cy="467.5" r="3.3" fill="#f29a7e" stroke="#e4572e" stroke-width="1.6" />
<circle cx="587" cy="360" r="4.9" fill="#f3a78f" stroke="none" stroke-width="0" filter="url(#glow)" opacity="0.75"/>
<circle cx="587" cy="360" r="3.3" fill="#f29a7e" stroke="#e4572e" stroke-width="1.6" />
<circle cx="695.75" cy="373.25" r="4.9" fill="#f3a78f" stroke="none" stroke-width="0" filter="url(#glow)" opacity="0.75"/>
<circle cx="695.75" cy="373.25" r="3.3" fill="#f29a7e" stroke="#e4572e" stroke-width="1.6" />
<circle cx="651" cy="457.5" r="4.9" fill="#f3a78f" stroke="none" stroke-width="0" filter="url(#glow)" opacity="0.75"/>
<circle cx="651" cy="457.5" r="3.3" fill="#f29a7e" stroke="#e4572e" stroke-width="1.6" />
<circle cx="696" cy="516" r="4.9" fill="#f3a78f" stroke="none" stroke-width="0" filter="url(#glow)" opacity="0.75"/>
<circle cx="696" cy="516" r="3.3" fill="#f29a7e" stroke="#e4572e" stroke-width="1.6" />
<circle cx="651" cy="566" r="4.9" fill="#f3a78f" stroke="none" stroke-width="0" filter="url(#glow)" opacity="0.75"/>
<circle cx="651" cy="566" r="3.3" fill="#f29a7e" stroke="#e4572e" stroke-width="1.6" />
<circle cx="651" cy="619" r="4.9" fill="#f3a78f" stroke="none" stroke-width="0" filter="url(#glow)" opacity="0.75"/>
<circle cx="651" cy="619" r="3.3" fill="#f29a7e" stroke="#e4572e" stroke-width="1.6" />
<circle cx="458" cy="497" r="4.9" fill="#f3a78f" stroke="none" stroke-width="0" filter="url(#glow)" opacity="0.75"/>
<circle cx="458" cy="497" r="3.3" fill="#f29a7e" stroke="#e4572e" stroke-width="1.6" />
<circle cx="372.5" cy="608.75" r="4.9" fill="#f3a78f" stroke="none" stroke-width="0" filter="url(#glow)" opacity="0.75"/>
<circle cx="372.5" cy="608.75" r="3.3" fill="#f29a7e" stroke="#e4572e" stroke-width="1.6" />
<circle cx="482" cy="638.75" r="4.9" fill="#f3a78f" stroke="none" stroke-width="0" filter="url(#glow)" opacity="0.75"/>
<circle cx="482" cy="638.75" r="3.3" fill="#f29a7e" stroke="#e4572e" stroke-width="1.6" />
<circle cx="539.3" cy="638.7" r="4.9" fill="#f3a78f" stroke="none" stroke-width="0" filter="url(#glow)" opacity="0.75"/>
<circle cx="539.3" cy="638.7" r="3.3" fill="#f29a7e" stroke="#e4572e" stroke-width="1.6" />
<circle cx="841.7" cy="502.7" r="4.9" fill="#f3a78f" stroke="none" stroke-width="0" filter="url(#glow)" opacity="0.75"/>
<circle cx="841.7" cy="502.7" r="3.3" fill="#f29a7e" stroke="#e4572e" stroke-width="1.6" />
<circle cx="301.75" cy="261.75" r="7" fill="#f3a78f" stroke="none" stroke-width="0" filter="url(#glow)" opacity="0.7"/>
<circle cx="301.75" cy="261.75" r="5.2" fill="#ef6f4a" stroke="#e4572e" stroke-width="1.8" />
<circle cx="301.75" cy="261.75" r="2.4" fill="#f6a286" stroke="#f9c0aa" stroke-width="0.95" />
<circle cx="483.75" cy="467.5" r="7" fill="#f3a78f" stroke="none" stroke-width="0" filter="url(#glow)" opacity="0.7"/>
<circle cx="483.75" cy="467.5" r="5.2" fill="#ef6f4a" stroke="#e4572e" stroke-width="1.8" />
<circle cx="483.75" cy="467.5" r="2.4" fill="#f6a286" stroke="#f9c0aa" stroke-width="0.95" />
<circle cx="953.75" cy="491.25" r="7" fill="#f3a78f" stroke="none" stroke-width="0" filter="url(#glow)" opacity="0.7"/>
<circle cx="953.75" cy="491.25" r="5.2" fill="#ef6f4a" stroke="#e4572e" stroke-width="1.8" />
<circle cx="953.75" cy="491.25" r="2.4" fill="#f6a286" stroke="#f9c0aa" stroke-width="0.95" />
<line x1="433" y1="212" x2="441" y2="221.75" stroke="#0a0a0a" stroke-width="1.35" />
<line x1="295" y1="250" x2="300.5" y2="258.5" stroke="#0a0a0a" stroke-width="1.35" />
<line x1="582" y1="179.5" x2="590" y2="190" stroke="#0a0a0a" stroke-width="1.35" />
<line x1="582" y1="209" x2="590" y2="219.4" stroke="#0a0a0a" stroke-width="1.35" />
<line x1="583" y1="247" x2="590" y2="255.6" stroke="#0a0a0a" stroke-width="1.35" />
<line x1="627" y1="247" x2="635.6" y2="255.6" stroke="#0a0a0a" stroke-width="1.35" />
<line x1="731" y1="145" x2="715" y2="127" stroke="#0a0a0a" stroke-width="1.35" />
<line x1="771" y1="183" x2="755.5" y2="197" stroke="#0a0a0a" stroke-width="1.35" />
<line x1="728" y1="211" x2="712.5" y2="221" stroke="#0a0a0a" stroke-width="1.35" />
<line x1="873" y1="163" x2="882.5" y2="173.75" stroke="#0a0a0a" stroke-width="1.35" />
<line x1="873" y1="252" x2="883" y2="262.5" stroke="#0a0a0a" stroke-width="1.35" />
<line x1="319.5" y1="458" x2="327" y2="467.5" stroke="#0a0a0a" stroke-width="1.35" />
<line x1="367.5" y1="458" x2="376" y2="467.5" stroke="#0a0a0a" stroke-width="1.35" />
<line x1="417" y1="458" x2="425" y2="467.5" stroke="#0a0a0a" stroke-width="1.35" />
<line x1="465" y1="458" x2="473.75" y2="467.5" stroke="#0a0a0a" stroke-width="1.35" />
<line x1="495" y1="458" x2="487" y2="464" stroke="#0a0a0a" stroke-width="1.35" />
<line x1="578" y1="372" x2="587" y2="360" stroke="#0a0a0a" stroke-width="1.35" />
<line x1="677" y1="382" x2="695.75" y2="373.25" stroke="#0a0a0a" stroke-width="1.35" />
<line x1="670" y1="472" x2="651" y2="457.5" stroke="#0a0a0a" stroke-width="1.35" />
<line x1="688" y1="505" x2="696" y2="516" stroke="#0a0a0a" stroke-width="1.35" />
<line x1="667.5" y1="581" x2="651" y2="566" stroke="#0a0a0a" stroke-width="1.35" />
<line x1="667.5" y1="603" x2="651" y2="619" stroke="#0a0a0a" stroke-width="1.35" />
<line x1="366" y1="598" x2="372.5" y2="608.75" stroke="#0a0a0a" stroke-width="1.35" />
<line x1="497.5" y1="653.75" x2="482" y2="638.75" stroke="#0a0a0a" stroke-width="1.35" />
<line x1="555" y1="653" x2="539.3" y2="638.7" stroke="#0a0a0a" stroke-width="1.35" />
<line x1="307.5" y1="700" x2="298.75" y2="706" stroke="#0a0a0a" stroke-width="1.35" />
<line x1="462" y1="700" x2="452" y2="706" stroke="#0a0a0a" stroke-width="1.35" />
<line x1="835" y1="494" x2="841.7" y2="502.7" stroke="#0a0a0a" stroke-width="1.35" />
<line x1="946" y1="480" x2="951.5" y2="487.5" stroke="#0a0a0a" stroke-width="1.35" />
<circle cx="295" cy="700" r="4.6" fill="#9a9a9a" stroke="#2a2a2a" stroke-width="1" />
<circle cx="295" cy="700" r="2" fill="#bbb" stroke="#3c3c3c" stroke-width="0.85" />
<circle cx="297" cy="708.75" r="3.6" fill="none" stroke="#e4572e" stroke-width="1.5" />
<line x1="293" y1="711.75" x2="302" y2="711.75" stroke="#e4572e" stroke-width="1.3" />
<circle cx="450" cy="700" r="4.6" fill="#9a9a9a" stroke="#2a2a2a" stroke-width="1" />
<circle cx="450" cy="700" r="2" fill="#bbb" stroke="#3c3c3c" stroke-width="0.85" />
<circle cx="448.75" cy="708.75" r="3.6" fill="none" stroke="#e4572e" stroke-width="1.5" />
<line x1="444.75" y1="711.75" x2="453.75" y2="711.75" stroke="#e4572e" stroke-width="1.3" />
<text x="380.7" y="108.3" font-size="9.5" textLength="78.6" lengthAdjust="spacingAndGlyphs" fill="#0c0c0c" font-weight="normal" >vodilica za zavjese</text>
<text x="416" y="211" font-size="9.5" textLength="22.75" lengthAdjust="spacingAndGlyphs" fill="#0c0c0c" font-weight="normal" >visilica</text>
<text x="259" y="248.75" font-size="9.5" textLength="51.5" lengthAdjust="spacingAndGlyphs" fill="#0c0c0c" font-weight="normal" >podna/stojeca</text>
<text x="565.6" y="178.75" font-size="9.5" textLength="22.4" lengthAdjust="spacingAndGlyphs" fill="#0c0c0c" font-weight="normal" >visilica</text>
<text x="565.6" y="208" font-size="9.5" textLength="22.4" lengthAdjust="spacingAndGlyphs" fill="#0c0c0c" font-weight="normal" >visilica</text>
<text x="557" y="245.6" font-size="9.5" textLength="37.4" lengthAdjust="spacingAndGlyphs" fill="#0c0c0c" font-weight="normal" >ugradna led</text>
<text x="611.5" y="245.6" font-size="9.5" textLength="36" lengthAdjust="spacingAndGlyphs" fill="#0c0c0c" font-weight="normal" >led/plafon</text>
<text x="731" y="147.5" font-size="9.5" textLength="36.5" lengthAdjust="spacingAndGlyphs" fill="#0c0c0c" font-weight="normal" >led u niši</text>
<text x="771" y="184" font-size="9.5" textLength="10" lengthAdjust="spacingAndGlyphs" fill="#0c0c0c" font-weight="normal" >led</text>
<text x="728" y="210" font-size="9.5" textLength="104" lengthAdjust="spacingAndGlyphs" fill="#0c0c0c" font-weight="normal" >ogledalo s ugr.led rasvjetom</text>
<text x="864" y="162.5" font-size="9.5" textLength="9.75" lengthAdjust="spacingAndGlyphs" fill="#0c0c0c" font-weight="normal" >led</text>
<text x="864" y="251.5" font-size="9.5" textLength="9.75" lengthAdjust="spacingAndGlyphs" fill="#0c0c0c" font-weight="normal" >led</text>
<text x="831" y="187.5" font-size="9.5" textLength="12" lengthAdjust="spacingAndGlyphs" fill="#0c0c0c" font-weight="normal" >111</text>
<text x="912" y="187" font-size="9.5" textLength="14" lengthAdjust="spacingAndGlyphs" fill="#0c0c0c" font-weight="normal" >140</text>
<text x="881" y="209" font-size="9.5" textLength="56.5" lengthAdjust="spacingAndGlyphs" fill="#0c0c0c" font-weight="normal" >krevet 140*200</text>
<text x="309.5" y="457" font-size="9.5" textLength="10" lengthAdjust="spacingAndGlyphs" fill="#0c0c0c" font-weight="normal" >led</text>
<text x="357.5" y="457" font-size="9.5" textLength="10" lengthAdjust="spacingAndGlyphs" fill="#0c0c0c" font-weight="normal" >led</text>
<text x="407" y="457" font-size="9.5" textLength="10" lengthAdjust="spacingAndGlyphs" fill="#0c0c0c" font-weight="normal" >led</text>
<text x="455" y="457" font-size="9.5" textLength="10" lengthAdjust="spacingAndGlyphs" fill="#0c0c0c" font-weight="normal" >led</text>
<text x="473.75" y="457" font-size="9.5" textLength="50" lengthAdjust="spacingAndGlyphs" fill="#0c0c0c" font-weight="normal" >podna/stojeca</text>
<text x="570" y="380" font-size="9.5" textLength="10" lengthAdjust="spacingAndGlyphs" fill="#0c0c0c" font-weight="normal" >led</text>
<text x="641.75" y="387" font-size="9.5" textLength="37" lengthAdjust="spacingAndGlyphs" fill="#0c0c0c" font-weight="normal" >led u niši</text>
<text x="316" y="508.75" font-size="9.5" textLength="74" lengthAdjust="spacingAndGlyphs" fill="#0c0c0c" font-weight="normal" >izvod za led traku?</text>
<text x="370" y="520.75" font-size="9.5" textLength="71" lengthAdjust="spacingAndGlyphs" fill="#0c0c0c" font-weight="normal" >izvod za led traku?</text>
<text x="347.5" y="597" font-size="9.5" textLength="45.5" lengthAdjust="spacingAndGlyphs" fill="#0c0c0c" font-weight="normal" >luster/plafon</text>
<text x="498.75" y="658" font-size="9.5" textLength="9.25" lengthAdjust="spacingAndGlyphs" fill="#0c0c0c" font-weight="normal" >led</text>
<text x="555" y="657.7" font-size="9.5" textLength="10" lengthAdjust="spacingAndGlyphs" fill="#0c0c0c" font-weight="normal" >led</text>
<text x="311" y="703.75" font-size="9.5" textLength="17.75" lengthAdjust="spacingAndGlyphs" fill="#0c0c0c" font-weight="normal" >zidna</text>
<text x="465" y="703.75" font-size="9.5" textLength="16" lengthAdjust="spacingAndGlyphs" fill="#0c0c0c" font-weight="normal" >zidna</text>
<text x="667.5" y="586" font-size="9.5" textLength="10.5" lengthAdjust="spacingAndGlyphs" fill="#0c0c0c" font-weight="normal" >led</text>
<text x="667.5" y="605" font-size="9.5" textLength="10.5" lengthAdjust="spacingAndGlyphs" fill="#0c0c0c" font-weight="normal" >led</text>
<text x="670" y="476" font-size="9.5" textLength="8" lengthAdjust="spacingAndGlyphs" fill="#0c0c0c" font-weight="normal" >led</text>
<text x="671" y="503.75" font-size="9.5" textLength="21.5" lengthAdjust="spacingAndGlyphs" fill="#0c0c0c" font-weight="normal" >visilica</text>
<text x="818" y="492.5" font-size="9.5" textLength="60.75" lengthAdjust="spacingAndGlyphs" fill="#0c0c0c" font-weight="normal" >visilica-centralna</text>
<text x="910.75" y="478" font-size="9.5" textLength="51.25" lengthAdjust="spacingAndGlyphs" fill="#0c0c0c" font-weight="normal" >podna/stojeca</text>
<text x="785" y="579" font-size="9.5" textLength="16" lengthAdjust="spacingAndGlyphs" fill="#0c0c0c" font-weight="normal" >210</text>
<text x="907" y="578" font-size="9.5" textLength="14" lengthAdjust="spacingAndGlyphs" fill="#0c0c0c" font-weight="normal" >166</text>
<text x="726" y="687.5" font-size="9.5" textLength="104.7" lengthAdjust="spacingAndGlyphs" fill="#0c0c0c" font-weight="normal" >led traka ispod gornjih</text>
<text x="726" y="700" font-size="9.5" textLength="114" lengthAdjust="spacingAndGlyphs" fill="#0c0c0c" font-weight="normal" >elemenata kuhinje l=210</text>
<text x="0" y="0" font-size="9.5" textLength="105" lengthAdjust="spacingAndGlyphs" fill="#0c0c0c" transform="translate(680.5 317) rotate(-90)">led traka ispod gornjih</text>
<text x="0" y="0" font-size="9.5" textLength="114" lengthAdjust="spacingAndGlyphs" fill="#0c0c0c" transform="translate(693.5 317) rotate(-90)">elemenata kuhinje l=260</text>
<text x="0" y="0" font-size="9.5" textLength="136.5" lengthAdjust="spacingAndGlyphs" fill="#0c0c0c" transform="translate(532.4 521.5) rotate(-90)">PRIJEDLOG _ šina s led rasvjetom</text>
<text x="0" y="0" font-size="9.5" textLength="129" lengthAdjust="spacingAndGlyphs" fill="#0c0c0c" transform="translate(776.5 490) rotate(-90)">PRIJEDLOG _ šina s led rasvjetom</text>
<text x="0" y="0" font-size="9.5" textLength="77" lengthAdjust="spacingAndGlyphs" fill="#0c0c0c" transform="translate(742.5 458) rotate(-90)">izvod za led traku?</text>
<text x="0" y="0" font-size="11" textLength="14" lengthAdjust="spacingAndGlyphs" fill="#0c0c0c" transform="translate(713 467) rotate(-90)">183</text>
<text x="0" y="0" font-size="9.5" textLength="70" lengthAdjust="spacingAndGlyphs" fill="#0c0c0c" transform="translate(696 482) rotate(-90)">ogledalo s ugr.led</text>
<line x1="366" y1="801" x2="431" y2="787.3" stroke="#3a3a3a" stroke-width="1.9" />
<g transform="translate(465 785) scale(1 0.36) skewX(-50)" opacity="0.85"><text x="0" y="0" font-size="12" textLength="385" lengthAdjust="spacingAndGlyphs" font-weight="bold" fill="#222">vodilica za zavjese</text></g>
<line x1="725.5" y1="638.6" x2="862" y2="638.6" stroke="#111" stroke-width="2.6" />
</g>
<text x="659" y="717" font-size="45.5" font-weight="bold" textLength="479" lengthAdjust="spacingAndGlyphs" fill="rgba(255,255,255,0.35)" style="stroke:#b0b0b0;stroke-width:1.2px">Broker Real Estate</text>
</svg>
</body></html>
